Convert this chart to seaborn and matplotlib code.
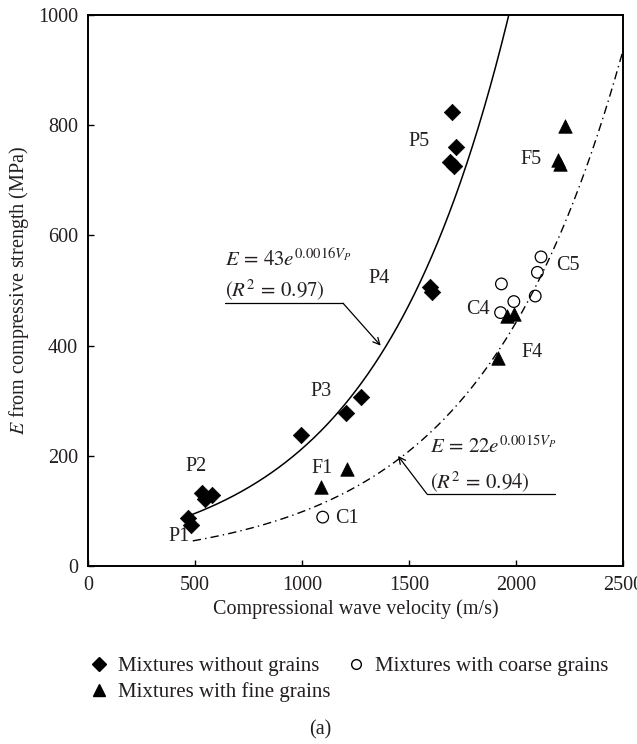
import numpy as np
import pandas as pd
import matplotlib
matplotlib.use("Agg")
import matplotlib.pyplot as plt
import seaborn as sns
from matplotlib.lines import Line2D

# ---- data ----
without_v = [468, 482, 535, 545, 578, 995, 1208, 1275, 1598, 1606, 1700, 1720, 1693, 1712]
without_e = [88, 75, 133, 121, 129, 238, 277, 306, 507, 497, 824, 760, 733, 725]

fine_v = [1088, 1212, 1915, 1958, 1990, 2195, 2205, 2230]
fine_e = [143, 176, 377, 454, 457, 737, 730, 798]

coarse_v = [1097, 1932, 1928, 1990, 2090, 2100, 2117]
coarse_e = [89, 512, 460, 480, 490, 533, 561]

# fitted curves: E = a * exp(b * Vp)
fit1_a, fit1_b, fit1_range = 43, 0.0016, (480, 2100)
fit2_a, fit2_b, fit2_range = 22, 0.0015, (490, 2500)

point_labels = ["P1", "P2", "P3", "P4", "P5", "F1", "F4", "F5", "C1", "C4", "C5"]
label_pos = [(425, 54), (505, 180), (1090, 316), (1360, 521), (1545, 770),
             (1095, 177), (2075, 388), (2070, 737), (1210, 86), (1822, 466), (2243, 546)]

x_ticks = [0, 500, 1000, 1500, 2000, 2500]
y_ticks = [0, 200, 400, 600, 800, 1000]

legend_labels = ["Mixtures without grains", "Mixtures with fine grains",
                 "Mixtures with coarse grains"]

# ---- style ----
sns.set_theme(style="ticks")
plt.rcParams['font.family'] = ['Liberation Serif', 'DejaVu Serif']
plt.rcParams['mathtext.fontset'] = 'stix'
FS = 14.5
TXT = "#231f20"

fig = plt.figure(figsize=(6.37, 7.44), dpi=100)
ax = fig.add_axes([0.138, 0.239, 0.840, 0.741])

# curves
v1 = np.linspace(*fit1_range, 300)
v2 = np.linspace(*fit2_range, 300)
sns.lineplot(x=v1, y=fit1_a * np.exp(fit1_b * v1), ax=ax, color="black", lw=1.1)
sns.lineplot(x=v2, y=fit2_a * np.exp(fit2_b * v2), ax=ax, color="black", lw=1.0,
             linestyle=(0, (6, 3, 1, 3)))

# points
sns.scatterplot(x=without_v, y=without_e, ax=ax, marker="D", s=70, color="black",
                edgecolor="black", linewidth=0.5, zorder=3)
sns.scatterplot(x=fine_v, y=fine_e, ax=ax, marker="^", s=95, color="black",
                edgecolor="black", linewidth=0.5, zorder=3)
sns.scatterplot(x=coarse_v, y=coarse_e, ax=ax, marker="o", s=70, facecolor="none",
                edgecolor="black", linewidth=0.9, zorder=3)

for lab, (x, y) in zip(point_labels, label_pos):
    ax.text(x, y, lab, fontsize=FS, ha="center", va="center", color=TXT)

# equation annotations
ax.text(640, 555, r"$E\,=\,43e^{0.0016V_P}$", fontsize=FS + 0.5, ha="left",
        va="center", color=TXT)
ax.text(640, 500, r"$(R^2\,=\,0.97)$", fontsize=FS + 0.5, ha="left", va="center",
        color=TXT)
ax.plot([640, 1192], [477, 477], color="black", lw=0.9)
ax.annotate("", xy=(1368, 400), xytext=(1192, 477),
            arrowprops=dict(arrowstyle="->", lw=0.9, color="black",
                            shrinkA=0, shrinkB=0))

ax.text(1598, 216, r"$E\,=\,22e^{0.0015V_P}$", fontsize=FS + 0.5, ha="left",
        va="center", color=TXT)
ax.text(1598, 152, r"$(R^2\,=\,0.94)$", fontsize=FS + 0.5, ha="left", va="center",
        color=TXT)
ax.plot([1584, 2182], [131, 131], color="black", lw=0.9)
ax.annotate("", xy=(1449, 200), xytext=(1584, 131),
            arrowprops=dict(arrowstyle="->", lw=0.9, color="black",
                            shrinkA=0, shrinkB=0))

ax.set_xlim(0, 2500)
ax.set_ylim(0, 1000)
ax.set_xticks(x_ticks)
ax.set_yticks(y_ticks)
ax.tick_params(direction="in", length=4, width=1, labelsize=FS, pad=7,
               colors="black", labelcolor=TXT)
for s in ax.spines.values():
    s.set_visible(True)
    s.set_linewidth(1.4)
    s.set_color("black")
ax.set_xlabel("Compressional wave velocity (m/s)", fontsize=FS, labelpad=3, color=TXT)
ax.set_ylabel(r"$E$ from compressive strength (MPa)", fontsize=FS, labelpad=5,
              color=TXT)

handles = [
    Line2D([], [], marker="D", color="black", ls="none", markersize=7),
    Line2D([], [], marker="^", color="black", ls="none", markersize=9),
    Line2D([], [], marker="o", markerfacecolor="none", markeredgecolor="black",
           ls="none", markersize=7),
]
leg = fig.legend(handles, legend_labels, ncol=2, frameon=False, fontsize=15,
                 loc="upper center", bbox_to_anchor=(0.547, 0.143),
                 handletextpad=0.4, columnspacing=0.75, labelspacing=0.3,
                 handlelength=1.0)
for t in leg.get_texts():
    t.set_color(TXT)

fig.text(0.502, 0.019, "(a)", fontsize=FS, ha="center", va="center", color=TXT)

fig.savefig("out.png", dpi=100)
